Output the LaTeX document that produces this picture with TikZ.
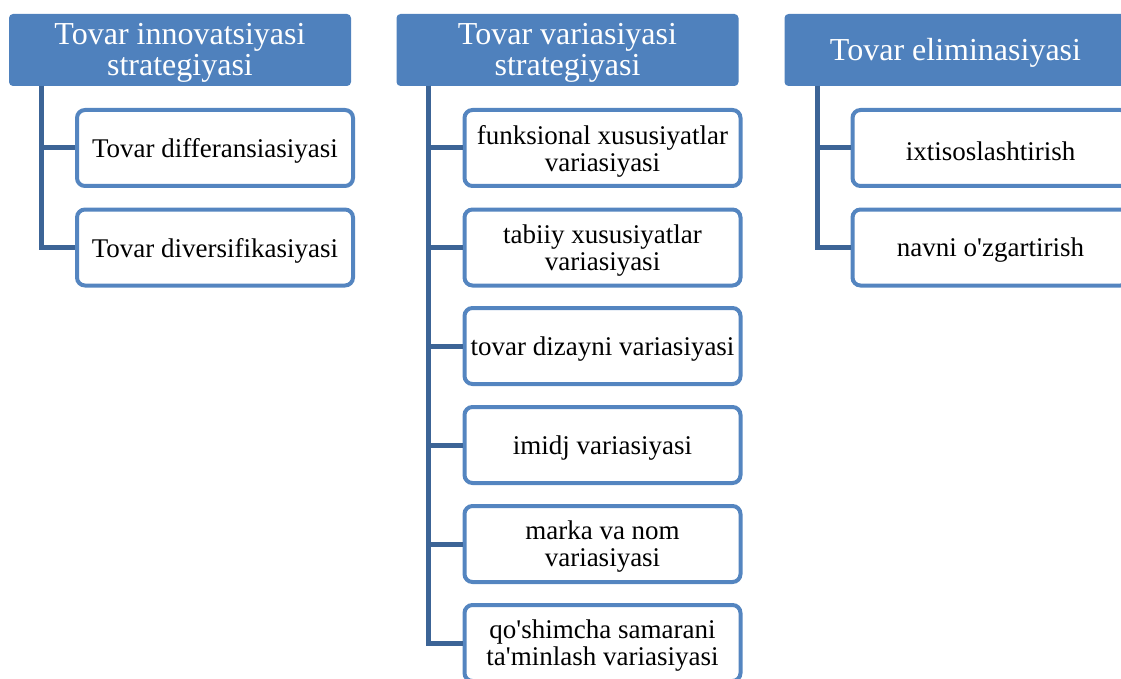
\documentclass[tikz,border=0pt]{standalone}
\usepackage{fontspec}
\setmainfont{Liberation Serif}
\definecolor{hdr}{RGB}{79,129,189}
\definecolor{brd}{RGB}{84,133,192}
\definecolor{conn}{RGB}{60,100,150}
\tikzset{
  hbox/.style={fill=hdr, draw=none, rounded corners=4pt, minimum width=342pt, minimum height=72pt, inner sep=0pt},
  htext/.style={inner sep=0pt, align=center, text=white, font=\fontsize{32}{31}\selectfont, yshift=-3pt},
  cbox/.style={fill=white, draw=brd, line width=4pt, rounded corners=8pt, minimum width=276pt, minimum height=76pt, inner sep=0pt},
  ctext/.style={inner sep=0pt, align=center, text=black, font=\fontsize{27}{27}\selectfont, yshift=-3pt},
  conline/.style={draw=conn, line width=5pt}
}
\newcommand\hbx[3]{\node[hbox] (#1) at (#2) {}; \node[htext] (#1t) at (#1.center) {#3};}
\newcommand\cbx[3]{\node[cbox] (#1) at (#2) {}; \node[ctext] (#1t) at (#1.center) {#3};}
\newcommand\apo{\XeTeXglyph\XeTeXcharglyph"0027\relax}
\begin{document}
\begin{tikzpicture}[x=1pt,y=-1pt]
\clip (0,0) rectangle (1121,679);
\useasboundingbox (0,0) rectangle (1121,679);
% headers
\hbx{h1}{180,50}{Tovar innovatsiyasi\\strategiyasi}
\hbx{h2}{567.5,50}{Tovar variasiyasi\\strategiyasi}
\hbx{h3}{955.5,50}{Tovar eliminasiyasi}
% connector tops
\coordinate (t1) at (41,86);
\coordinate (t2) at (428,86);
\coordinate (t3) at (817,86);
% column 1
\cbx{a1}{215,148}{Tovar differansiasiyasi}
\cbx{a2}{215,247.5}{Tovar diversifikasiyasi}
% column 2
\cbx{b1}{602.5,148}{funksional xususiyatlar\\variasiyasi}
\cbx{b2}{602.5,247.5}{tabiiy xususiyatlar\\variasiyasi}
\cbx{b3}{602.5,346}{tovar dizayni variasiyasi}
\cbx{b4}{602.5,445}{imidj variasiyasi}
\cbx{b5}{602.5,544}{marka va nom\\variasiyasi}
\cbx{b6}{602.5,643}{qo\apo shimcha samarani\\ta\apo minlash variasiyasi}
% column 3
\cbx{c1}{990.5,148}{ixtisoslashtirish}
\cbx{c2}{990.5,247.5}{navni o\apo zgartirish}
% connectors
\draw[conline] (t1) |- (a1.west);
\draw[conline] (t1) |- (a2.west);
\foreach \n in {b1,b2,b3,b4,b5,b6}{\draw[conline] (t2) |- (\n.west);}
\draw[conline] (t3) |- (c1.west);
\draw[conline] (t3) |- (c2.west);
\end{tikzpicture}
\end{document}
